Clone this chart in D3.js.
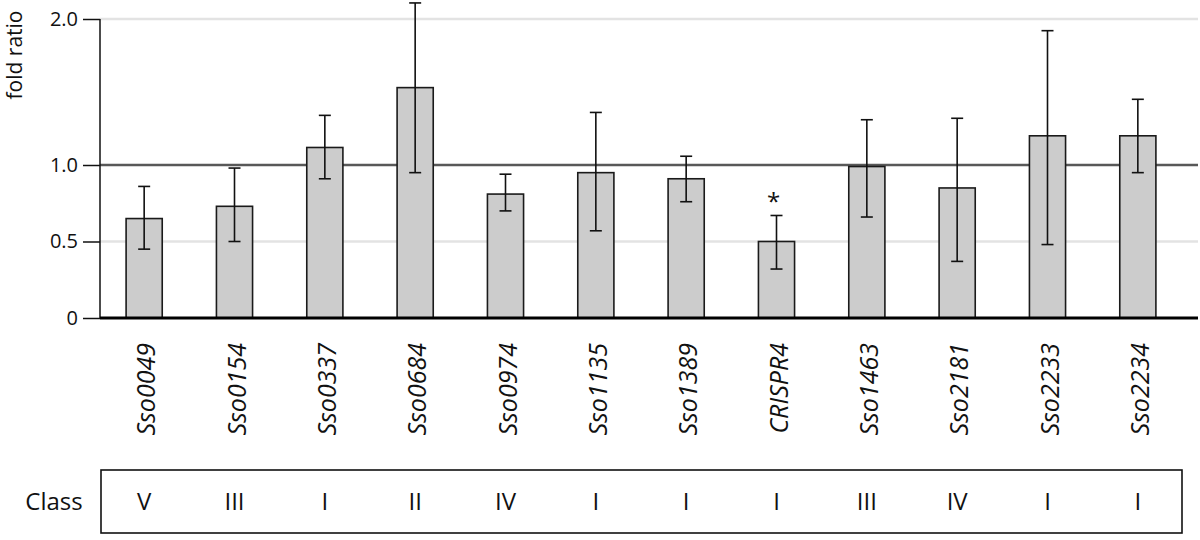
<!DOCTYPE html>
<html>
<head>
<meta charset="utf-8">
<script src="https://cdn.jsdelivr.net/npm/d3@7"></script>
<style>
  html, body { margin: 0; padding: 0; background: #fff; }
  svg { display: block; font-family: "Open Sans", "Noto Sans", sans-serif; }
</style>
</head>
<body>
<svg id="chart" width="1200" height="540"></svg>
<script>
const genes = ["Sso0049","Sso0154","Sso0337","Sso0684","Sso0974","Sso1135","Sso1389","CRISPR4","Sso1463","Sso2181","Sso2233","Sso2234"];
const foldRatio = [0.65, 0.73, 1.12, 1.53, 0.81, 0.95, 0.91, 0.50, 0.99, 0.85, 1.20, 1.20];
const errLower  = [0.45, 0.50, 0.91, 0.95, 0.70, 0.57, 0.76, 0.32, 0.66, 0.37, 0.48, 0.95];
const errUpper  = [0.86, 0.98, 1.34, 2.11, 0.94, 1.36, 1.06, 0.67, 1.31, 1.32, 1.92, 1.45];
const classes   = ["V","III","I","II","IV","I","I","I","III","IV","I","I"];
const significant = ["CRISPR4"];
const yTicks = [0, 0.5, 1.0, 2.0];
const yTickLabels = ["0", "0.5", "1.0", "2.0"];

const svg = d3.select("#chart");

const x = d3.scaleBand().domain(genes).range([99, 1183]).paddingInner(0.6).paddingOuter(0.3);
const y = d3.scaleLinear().domain([0, 1, 2]).range([318, 165, 19]);

const plotLeft = 100, plotRight = 1198;

// grid lines
svg.append("g").selectAll("line").data([0.5, 2.0]).join("line")
  .attr("x1", plotLeft).attr("x2", plotRight)
  .attr("y1", d => y(d)).attr("y2", d => y(d))
  .attr("stroke", "#e3e3e3").attr("stroke-width", 2.5);

// reference line at 1.0
svg.append("line")
  .attr("x1", plotLeft).attr("x2", plotRight)
  .attr("y1", y(1)).attr("y2", y(1))
  .attr("stroke", "#585858").attr("stroke-width", 2.5);

// y axis
const yAxis = d3.axisLeft(y).tickValues(yTicks)
  .tickFormat((d, i) => yTickLabels[i]).tickSize(17).tickPadding(5);
const gy = svg.append("g").attr("transform", `translate(${plotLeft},0)`).call(yAxis);
gy.select(".domain").remove();
gy.selectAll(".tick line").attr("stroke", "#111").attr("stroke-width", 1.5);
gy.selectAll(".tick text").attr("font-size", 20).attr("fill", "#111")
  .attr("font-family", "'Open Sans', sans-serif");
svg.append("line").attr("x1", plotLeft).attr("x2", plotLeft)
  .attr("y1", y(2)).attr("y2", y(0)).attr("stroke", "#111").attr("stroke-width", 1.5);

// y label
svg.append("text")
  .attr("transform", `translate(22,55) rotate(-90)`)
  .attr("text-anchor", "middle")
  .attr("font-size", 21).attr("fill", "#111")
  .text("fold ratio");

// bars
svg.append("g").selectAll("rect").data(genes).join("rect")
  .attr("x", d => x(d)).attr("width", x.bandwidth())
  .attr("y", (d, i) => y(foldRatio[i]))
  .attr("height", (d, i) => y(0) - y(foldRatio[i]))
  .attr("fill", "#cccccc").attr("stroke", "#1a1a1a").attr("stroke-width", 1.6);

// baseline
svg.append("line")
  .attr("x1", plotLeft).attr("x2", plotRight)
  .attr("y1", y(0)).attr("y2", y(0))
  .attr("stroke", "#000").attr("stroke-width", 3);

// error bars
const cap = 6;
const eg = svg.append("g").attr("stroke", "#111").attr("stroke-width", 1.6);
genes.forEach((g, i) => {
  const cx = x(g) + x.bandwidth() / 2;
  eg.append("line").attr("x1", cx).attr("x2", cx).attr("y1", y(errLower[i])).attr("y2", y(errUpper[i]));
  eg.append("line").attr("x1", cx - cap).attr("x2", cx + cap).attr("y1", y(errLower[i])).attr("y2", y(errLower[i]));
  eg.append("line").attr("x1", cx - cap).attr("x2", cx + cap).attr("y1", y(errUpper[i])).attr("y2", y(errUpper[i]));
});

// significance asterisks
svg.append("g").selectAll("text").data(significant).join("text")
  .attr("x", d => x(d) + x.bandwidth() / 2 - 3)
  .attr("y", d => y(errUpper[genes.indexOf(d)]) - 5)
  .attr("text-anchor", "middle")
  .attr("font-size", 24).attr("fill", "#111")
  .text("*");

// gene labels
svg.append("g").selectAll("text").data(genes).join("text")
  .attr("transform", d => `translate(${x(d) + x.bandwidth() / 2 + 2},343) rotate(-90)`)
  .attr("text-anchor", "end")
  .attr("dy", "0.36em")
  .attr("font-size", 25).attr("font-style", "italic").attr("fill", "#111")
  .text(d => d);

// class row
svg.append("rect")
  .attr("x", 101).attr("y", 470).attr("width", 1081).attr("height", 63)
  .attr("fill", "none").attr("stroke", "#111").attr("stroke-width", 1.6);
svg.append("text")
  .attr("x", 54).attr("y", 502).attr("dy", "0.35em")
  .attr("text-anchor", "middle").attr("font-size", 24).attr("fill", "#111")
  .text("Class");
svg.append("g").selectAll("text").data(genes).join("text")
  .attr("x", d => x(d) + x.bandwidth() / 2)
  .attr("y", 502).attr("dy", "0.35em")
  .attr("text-anchor", "middle").attr("font-size", 24).attr("fill", "#111")
  .text((d, i) => classes[i]);
</script>
</body>
</html>
